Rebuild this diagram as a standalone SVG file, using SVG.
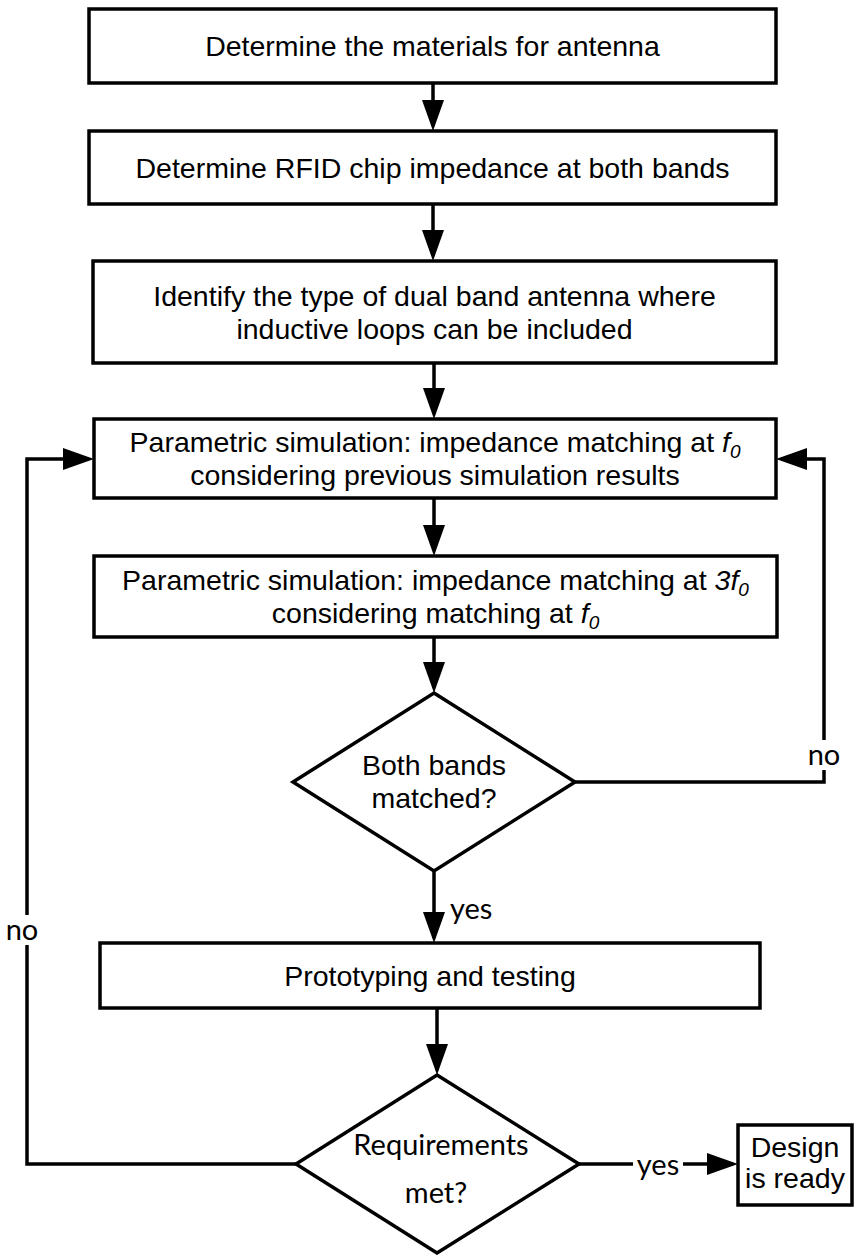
<svg xmlns="http://www.w3.org/2000/svg" width="854" height="1255" viewBox="0 0 854 1255">
<defs>
<marker id="ah" markerWidth="31" markerHeight="22" refX="26" refY="11" orient="auto" markerUnits="userSpaceOnUse"><path d="M0,0 L31,11 L0,22 z" fill="#000"/></marker>
</defs>
<style>
.box{fill:#fff;stroke:#000;stroke-width:3.5}
.t{font-family:"Liberation Sans",Arial,sans-serif;font-size:28.5px;fill:#000;text-anchor:middle}
.c{font-family:Lato,"Open Sans",sans-serif;font-size:29px;fill:#000}
.ln{fill:none;stroke:#000;stroke-width:3.5}
.bg{fill:#fff}
.i{font-style:italic}
</style>
<rect width="854" height="1255" fill="#fff"/>
<g id="connectors">
<path class="ln" d="M433,83 V126" marker-end="url(#ah)"/>
<path class="ln" d="M433,204 V256" marker-end="url(#ah)"/>
<path class="ln" d="M434,363 V414" marker-end="url(#ah)"/>
<path class="ln" d="M434,498 V551" marker-end="url(#ah)"/>
<path class="ln" d="M434,637 V688" marker-end="url(#ah)"/>
<path class="ln" d="M434,871 V938" marker-end="url(#ah)"/>
<path class="ln" d="M437,1008 V1070" marker-end="url(#ah)"/>
<path class="ln" d="M575,782 H824 V459 H781" marker-end="url(#ah)"/>
<path class="ln" d="M296,1164 H27 V459 H89" marker-end="url(#ah)"/>
<path class="ln" d="M579,1164 H733" marker-end="url(#ah)"/>
<rect class="bg" x="808" y="740" width="32" height="30"/>
<text class="c" x="824" y="765" text-anchor="middle">no</text>
<rect class="bg" x="6" y="915" width="34" height="30"/>
<text class="c" x="22" y="940" text-anchor="middle">no</text>
<text class="c" x="450" y="919">yes</text>
<rect class="bg" x="633" y="1152" width="50" height="26"/>
<text class="c" x="658" y="1175" text-anchor="middle">yes</text>
</g>
<g id="n1">
<rect class="box" x="89" y="9" width="687" height="74"/>
<text class="t" x="432.5" y="56">Determine the materials for antenna</text>
</g>
<g id="n2">
<rect class="box" x="89" y="131" width="687" height="73"/>
<text class="t" x="432.5" y="178">Determine RFID chip impedance at both bands</text>
</g>
<g id="n3">
<rect class="box" x="93" y="261" width="683" height="102"/>
<text class="t" x="434.5" y="306">Identify the type of dual band antenna where</text>
<text class="t" x="434.5" y="339">inductive loops can be included</text>
</g>
<g id="n4">
<rect class="box" x="94" y="419" width="682" height="79"/>
<text class="t" x="435" y="452">Parametric simulation: impedance matching at <tspan class="i">f</tspan><tspan class="i" font-size="19" dy="6">0</tspan></text>
<text class="t" x="435" y="485">considering previous simulation results</text>
</g>
<g id="n5">
<rect class="box" x="94" y="556" width="683" height="81"/>
<text class="t" x="435.5" y="590">Parametric simulation: impedance matching at <tspan class="i">3f</tspan><tspan class="i" font-size="19" dy="6">0</tspan></text>
<text class="t" x="435.5" y="623">considering matching at <tspan class="i">f</tspan><tspan class="i" font-size="19" dy="6">0</tspan></text>
</g>
<g id="d1">
<polygon class="box" points="434,693 575,782 434,871 293,782"/>
<text class="t" x="434" y="775">Both bands</text>
<text class="t" x="434" y="808">matched?</text>
</g>
<g id="n6">
<rect class="box" x="100" y="943" width="660" height="65"/>
<text class="t" x="430" y="986">Prototyping and testing</text>
</g>
<g id="d2">
<polygon class="box" points="437,1075 579,1164 437,1253 296,1164"/>
<text class="c" x="441" y="1155" text-anchor="middle">Requirements</text>
<text class="c" x="436" y="1203" text-anchor="middle">met?</text>
</g>
<g id="n7">
<rect class="box" x="738" y="1125" width="114" height="80"/>
<text class="t" x="795" y="1157" font-size="28">Design</text>
<text class="t" x="795" y="1188" font-size="28">is ready</text>
</g>
</svg>
